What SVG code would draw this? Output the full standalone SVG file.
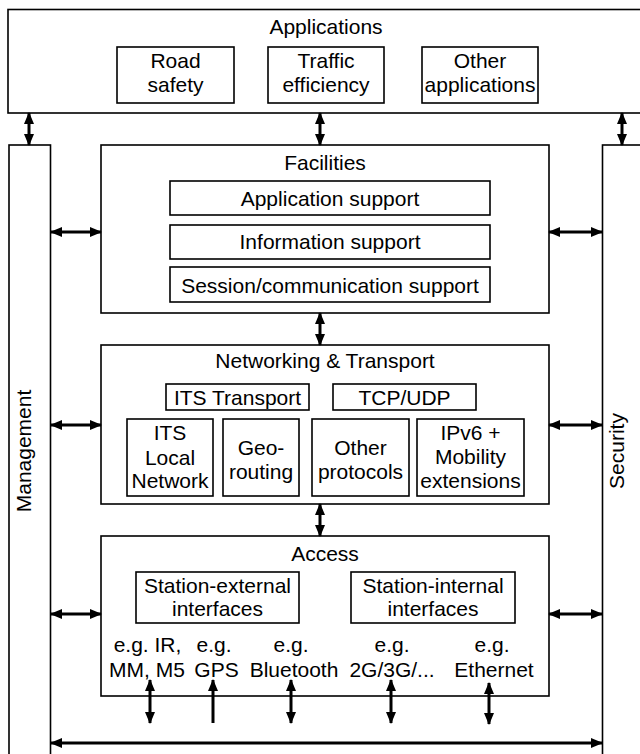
<svg xmlns="http://www.w3.org/2000/svg" width="640" height="754" viewBox="0 0 640 754">
<style>
.box{fill:#fff;stroke:#000;stroke-width:1.6}
.t{font-family:"Liberation Sans",Arial,sans-serif;font-size:21px;fill:#000;text-anchor:middle}
.ar{stroke:#000;stroke-width:3;fill:none}
</style>
<defs>
<marker id="ah" markerUnits="userSpaceOnUse" markerWidth="12" markerHeight="12" viewBox="0 0 12 12" refX="11" refY="6" orient="auto-start-reverse">
<path d="M0,1 L12,6 L0,11 Z" fill="#000"/>
</marker>
</defs>
<rect width="640" height="754" fill="#fff"/>
<g id="applications">
<rect class="box" x="8" y="9.5" width="640" height="103.5"/>
<text class="t" x="326" y="34">Applications</text>
</g>
<g id="road-safety">
<rect class="box" x="117" y="47" width="117" height="56"/>
<text class="t" x="175.5" y="68">Road</text>
<text class="t" x="175.5" y="92">safety</text>
</g>
<g id="traffic-efficiency">
<rect class="box" x="268" y="47" width="116" height="56"/>
<text class="t" x="326" y="68">Traffic</text>
<text class="t" x="326" y="92">efficiency</text>
</g>
<g id="other-applications">
<rect class="box" x="422" y="47" width="116" height="56"/>
<text class="t" x="480" y="68">Other</text>
<text class="t" x="480" y="92">applications</text>
</g>
<g id="management">
<rect class="box" x="9" y="145" width="41.5" height="620"/>
<text class="t" transform="translate(31,451) rotate(-90)">Management</text>
</g>
<g id="security">
<rect class="box" x="602.5" y="145" width="50" height="620"/>
<text class="t" transform="translate(624,451) rotate(-90)">Security</text>
</g>
<g id="facilities">
<rect class="box" x="101" y="145" width="448" height="168"/>
<text class="t" x="325" y="170">Facilities</text>
</g>
<g id="application-support">
<rect class="box" x="170" y="181" width="320" height="34"/>
<text class="t" x="330" y="206">Application support</text>
</g>
<g id="information-support">
<rect class="box" x="170" y="225" width="320" height="34"/>
<text class="t" x="330" y="249">Information support</text>
</g>
<g id="session-support">
<rect class="box" x="170" y="267" width="320" height="35"/>
<text class="t" x="330" y="293">Session/communication support</text>
</g>
<g id="networking">
<rect class="box" x="101" y="345" width="448" height="159"/>
<text class="t" x="325" y="368">Networking &amp; Transport</text>
</g>
<g id="its-transport">
<rect class="box" x="166" y="384" width="143" height="26"/>
<text class="t" x="237.5" y="405">ITS Transport</text>
</g>
<g id="tcp-udp">
<rect class="box" x="333" y="384" width="143" height="26"/>
<text class="t" x="404.5" y="405">TCP/UDP</text>
</g>
<g id="its-local-network">
<rect class="box" x="127" y="419" width="86" height="77"/>
<text class="t" x="170" y="440">ITS</text>
<text class="t" x="170" y="465">Local</text>
<text class="t" x="170" y="488">Network</text>
</g>
<g id="geo-routing">
<rect class="box" x="223" y="419" width="76" height="77"/>
<text class="t" x="261" y="455">Geo-</text>
<text class="t" x="261" y="479">routing</text>
</g>
<g id="other-protocols">
<rect class="box" x="312" y="419" width="97" height="77"/>
<text class="t" x="360.5" y="455">Other</text>
<text class="t" x="360.5" y="479">protocols</text>
</g>
<g id="ipv6">
<rect class="box" x="417" y="419" width="107" height="77"/>
<text class="t" x="470.5" y="440">IPv6 +</text>
<text class="t" x="470.5" y="464">Mobility</text>
<text class="t" x="470.5" y="488">extensions</text>
</g>
<g id="access">
<rect class="box" x="101" y="536" width="448" height="160"/>
<text class="t" x="325" y="561">Access</text>
<text class="t" x="147.5" y="652">e.g. IR,</text>
<text class="t" x="147" y="677">MM, M5</text>
<text class="t" x="214" y="652">e.g.</text>
<text class="t" x="216.5" y="677">GPS</text>
<text class="t" x="291" y="652">e.g.</text>
<text class="t" x="294" y="677">Bluetooth</text>
<text class="t" x="392" y="652">e.g.</text>
<text class="t" x="392" y="677">2G/3G/...</text>
<text class="t" x="492" y="652">e.g.</text>
<text class="t" x="494" y="677">Ethernet</text>
</g>
<g id="station-external">
<rect class="box" x="136" y="572" width="163" height="51"/>
<text class="t" x="217.5" y="593">Station-external</text>
<text class="t" x="217.5" y="616">interfaces</text>
</g>
<g id="station-internal">
<rect class="box" x="351" y="572" width="164" height="51"/>
<text class="t" x="433" y="593">Station-internal</text>
<text class="t" x="433" y="616">interfaces</text>
</g>
<g id="connectors">
<line class="ar" x1="29" y1="113" x2="29" y2="145" marker-start="url(#ah)" marker-end="url(#ah)"/>
<line class="ar" x1="320" y1="113" x2="320" y2="145" marker-start="url(#ah)" marker-end="url(#ah)"/>
<line class="ar" x1="622" y1="113" x2="622" y2="145" marker-start="url(#ah)" marker-end="url(#ah)"/>
<line class="ar" x1="320" y1="313" x2="320" y2="345" marker-start="url(#ah)" marker-end="url(#ah)"/>
<line class="ar" x1="320" y1="504" x2="320" y2="536" marker-start="url(#ah)" marker-end="url(#ah)"/>
<line class="ar" x1="51" y1="232" x2="101" y2="232" marker-start="url(#ah)" marker-end="url(#ah)"/>
<line class="ar" x1="549" y1="232" x2="602" y2="232" marker-start="url(#ah)" marker-end="url(#ah)"/>
<line class="ar" x1="51" y1="425" x2="101" y2="425" marker-start="url(#ah)" marker-end="url(#ah)"/>
<line class="ar" x1="549" y1="425" x2="602" y2="425" marker-start="url(#ah)" marker-end="url(#ah)"/>
<line class="ar" x1="51" y1="614" x2="101" y2="614" marker-start="url(#ah)" marker-end="url(#ah)"/>
<line class="ar" x1="549" y1="614" x2="602" y2="614" marker-start="url(#ah)" marker-end="url(#ah)"/>
<line class="ar" x1="150" y1="680" x2="150" y2="723" marker-start="url(#ah)" marker-end="url(#ah)"/>
<line class="ar" x1="213" y1="680" x2="213" y2="723" marker-start="url(#ah)"/>
<line class="ar" x1="291" y1="680" x2="291" y2="723" marker-start="url(#ah)" marker-end="url(#ah)"/>
<line class="ar" x1="391" y1="680" x2="391" y2="723" marker-start="url(#ah)" marker-end="url(#ah)"/>
<line class="ar" x1="489" y1="683" x2="489" y2="724" marker-start="url(#ah)" marker-end="url(#ah)"/>
<line class="ar" x1="51" y1="743" x2="602" y2="743" marker-start="url(#ah)" marker-end="url(#ah)"/>
</g>
</svg>
